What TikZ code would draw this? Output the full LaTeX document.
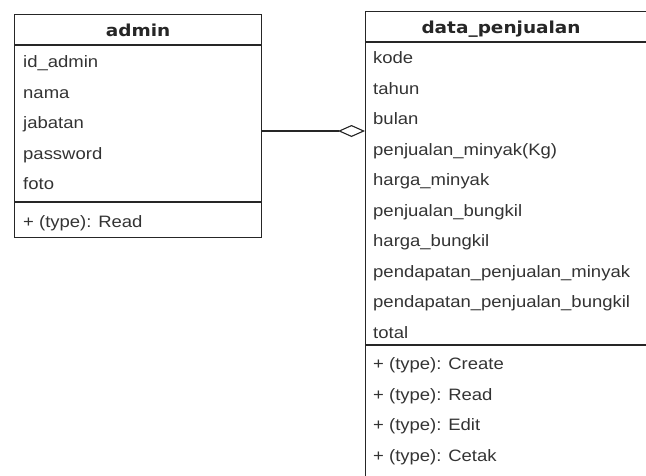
\documentclass[tikz,border=0pt]{standalone}
\usepackage{fontspec}
\setmainfont{Liberation Sans}[FakeStretch=1.12]
\newfontfamily\headfont{DejaVu Sans}[FakeStretch=1.12]
\usetikzlibrary{arrows.meta}
\tikzset{
  umlline/.style={draw=black!85, line width=1.1pt},
  classbox/.style={umlline, rectangle, inner sep=0pt, anchor=north west},
  headtext/.style={font=\headfont\bfseries\fontsize{16.5}{20}\selectfont, text=black!85, anchor=mid, inner sep=0pt},
  attrtext/.style={font=\fontsize{16.5}{20}\selectfont, text=black!80, anchor=mid west, inner sep=0pt},
}

\begin{document}
\begin{tikzpicture}[x=1pt, y=-1pt]
    \useasboundingbox (0,0) rectangle (646,475);
    \clip (0,0) rectangle (646,475);
    % class boxes
    \node[classbox, minimum width=247pt, minimum height=223pt](admin)at(14, 14){};
    \node[classbox, minimum width=300pt, minimum height=520pt](jual)at(365, 11){};
    \draw[umlline]([yshift=-31pt]admin.north west)--([yshift=-31pt]admin.north east);
    \draw[umlline]([yshift=-188pt]admin.north west)--([yshift=-188pt]admin.north east);
    \draw[umlline]([yshift=-31pt]jual.north west)--([yshift=-31pt]jual.north east);
    \draw[umlline]([yshift=-334pt]jual.north west)--([yshift=-334pt]jual.north east);
    \node[headtext](admintitle)at([yshift=-19.5pt]admin.north){admin};
    \node[headtext](jualtitle)at([xshift=-14.5pt, yshift=-19.5pt]jual.north){data\_penjualan};
    % attributes and methods
    \foreach \txt [count=\i] in {id\_admin, nama, jabatan, password, foto}
        \node[attrtext](admin-\i)at([xshift=9pt, yshift={-51pt-30.5pt*(\i-1)}]admin.north west){\txt};
    \node[attrtext](admin-read)at([xshift=9pt, yshift=-211pt]admin.north west){+ (type): Read};
    \foreach \txt [count=\i] in {kode, tahun, bulan, penjualan\_minyak(Kg), harga\_minyak,
        penjualan\_bungkil, harga\_bungkil, pendapatan\_penjualan\_minyak,
        pendapatan\_penjualan\_bungkil, total}
        \node[attrtext](jual-\i)at([xshift=8pt, yshift={-50pt-30.5pt*(\i-1)}]jual.north west){\txt};
    \foreach \txt [count=\i] in {Create, Read, Edit, Cetak}
        \node[attrtext](jual-op\i)at([xshift=8pt, yshift={-356pt-30.5pt*(\i-1)}]jual.north west){+ (type): \txt};
    % aggregation
    \coordinate(link)at(0, 131);
    \draw[umlline, -{Diamond[open, length=27pt, width=12pt]}](admin.east |- link)--(jual.west |- link);
\end{tikzpicture}
\end{document}
